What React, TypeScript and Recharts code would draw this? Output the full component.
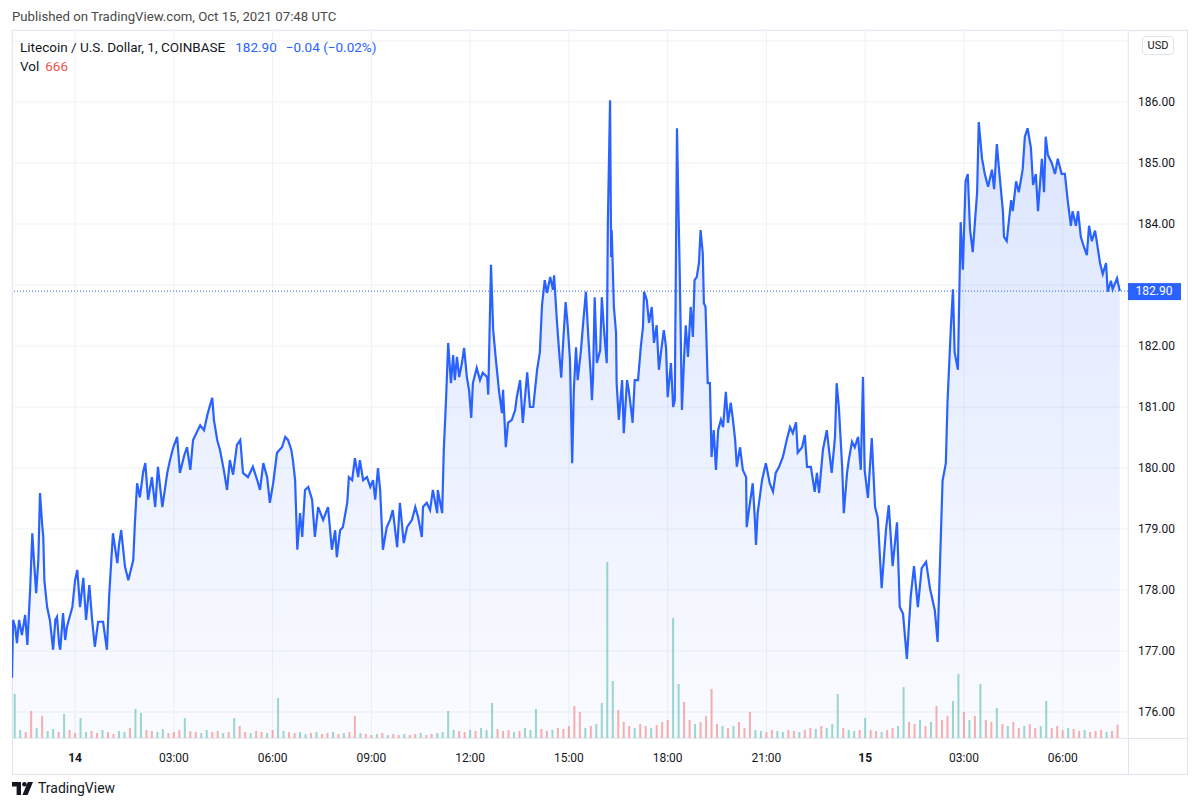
import {
  ComposedChart,
  Area,
  Bar,
  XAxis,
  YAxis,
  CartesianGrid,
  ReferenceLine,
} from "recharts";

// LTC/USD 1-minute, COINBASE. time = minutes from 2021-10-14 00:00 UTC, price in USD
const pricePoints: [number, number][] = [
  [-115, 176.56], [-113, 177.51], [-109, 177.38], [-106, 177.13], [-102, 177.51], [-97, 177.26],
  [-91, 177.59], [-87, 177.1], [-82, 178.0], [-78, 178.93], [-75, 178.49], [-71, 177.95],
  [-67, 178.49], [-64, 179.59], [-60, 179.07], [-58, 178.87], [-56, 178.16], [-51, 177.72],
  [-46, 177.51], [-40, 177.02], [-36, 177.51], [-33, 177.56], [-29, 177.1], [-27, 177.02],
  [-22, 177.62], [-18, 177.18], [-15, 177.39], [-9, 177.59], [-5, 177.72], [0, 178.16],
  [4, 178.33], [9, 177.72], [15, 178.2], [20, 177.51], [26, 178.08], [31, 177.51],
  [36, 177.07], [42, 177.48], [51, 177.48], [58, 177.02], [62, 177.89], [66, 178.49],
  [69, 178.93], [77, 178.44], [80, 178.74], [84, 178.98], [91, 178.38], [97, 178.16],
  [106, 178.49], [109, 179.1], [113, 179.75], [118, 179.52], [124, 179.93], [128, 180.08],
  [133, 179.48], [140, 179.85], [146, 179.36], [151, 180.02], [159, 179.36], [168, 179.92],
  [173, 180.13], [179, 180.34], [186, 180.51], [191, 179.92], [199, 180.21], [204, 180.34],
  [210, 179.97], [215, 180.46], [222, 180.59], [228, 180.7], [235, 180.62], [241, 180.87],
  [246, 181.03], [250, 181.15], [253, 180.79], [259, 180.46], [264, 180.3], [271, 179.97],
  [277, 179.64], [282, 180.13], [288, 179.89], [295, 180.38], [301, 180.46], [306, 179.92],
  [315, 179.85], [324, 180.02], [332, 179.8], [337, 179.64], [343, 180.08], [350, 179.85],
  [355, 179.43], [361, 179.75], [368, 180.25], [377, 180.34], [383, 180.51], [388, 180.46],
  [394, 180.3], [397, 180.13], [401, 179.8], [405, 178.66],
  [410, 179.26], [414, 178.87], [419, 179.64], [425, 179.69], [432, 179.48], [437, 178.87],
  [443, 179.36], [452, 179.15], [461, 179.36], [468, 178.66], [474, 178.98], [477, 178.54],
  [483, 178.98], [488, 179.03], [496, 179.43], [499, 179.85], [505, 179.8], [510, 180.16],
  [516, 179.85], [519, 180.13], [525, 179.8], [532, 179.85], [538, 179.69], [543, 179.8],
  [547, 179.48], [552, 180.0], [556, 179.64], [561, 178.66], [568, 179.03], [574, 179.15],
  [579, 179.31], [587, 178.7], [592, 179.43], [599, 178.77], [605, 179.03], [614, 179.15],
  [620, 179.36], [625, 179.2], [632, 178.87], [634, 179.36], [641, 179.43], [647, 179.31],
  [652, 179.64], [660, 179.26], [661, 179.64], [669, 179.26],
  [672, 180.3], [676, 181.11], [680, 182.05], [685, 181.39], [689, 181.85], [692, 181.44],
  [696, 181.82], [700, 181.49], [705, 181.72], [709, 181.97], [714, 181.49], [718, 181.28],
  [722, 180.82], [725, 181.39], [732, 181.64], [738, 181.44], [743, 181.56], [751, 181.49],
  [753, 181.2], [758, 183.33], [762, 182.26], [767, 181.77], [773, 181.23], [778, 180.9],
  [780, 181.28], [785, 180.34], [789, 180.74], [796, 180.79], [802, 180.95], [805, 181.16],
  [811, 181.44], [816, 180.74], [824, 181.57], [829, 181.0], [835, 181.0], [842, 181.61],
  [847, 181.89], [851, 182.67], [856, 183.08], [860, 182.87], [866, 183.13], [871, 182.92],
  [873, 183.16], [878, 182.43], [882, 181.93], [886, 181.48], [889, 181.98], [894, 182.72],
  [898, 182.31], [902, 181.77], [906, 180.08], [909, 181.28], [913, 181.98], [916, 181.44],
  [922, 181.93], [926, 182.38], [931, 182.89], [935, 182.21], [940, 181.49], [942, 181.11],
  [944, 181.49], [947, 182.8], [951, 181.72], [957, 181.93], [960, 182.8], [964, 182.26],
  [969, 181.72], [971, 184.02], [975, 186.03], [977, 183.46], [978, 183.9], [982, 182.64],
  [986, 182.21], [987, 181.39], [991, 180.79], [997, 181.44], [1000, 180.57], [1006, 181.44],
  [1009, 181.28], [1015, 180.84], [1016, 180.74], [1020, 181.44], [1026, 181.44], [1031, 181.98],
  [1035, 182.31], [1037, 182.89], [1042, 182.75], [1046, 182.38], [1051, 182.64], [1055, 182.05],
  [1060, 182.34], [1064, 181.61], [1069, 181.98], [1073, 182.26], [1077, 181.98], [1080, 181.16],
  [1086, 181.72], [1090, 181.0], [1093, 181.11], [1097, 185.57], [1099, 184.56], [1102, 183.2],
  [1106, 180.95], [1110, 181.82], [1113, 182.34], [1117, 181.82], [1122, 182.64], [1126, 182.15],
  [1129, 183.08], [1133, 183.13], [1137, 183.36], [1140, 183.9], [1144, 183.52], [1146, 182.7],
  [1149, 182.64], [1153, 181.39], [1157, 181.39], [1160, 180.18], [1164, 180.62], [1168, 179.97],
  [1172, 180.62], [1177, 180.79], [1181, 180.67], [1186, 181.25], [1190, 180.74], [1195, 181.07],
  [1199, 180.79], [1203, 180.46], [1206, 180.02], [1212, 180.34], [1217, 179.97], [1223, 179.85],
  [1224, 179.03], [1230, 179.43], [1235, 179.75], [1239, 179.15], [1241, 178.74], [1244, 179.26],
  [1252, 179.8], [1259, 180.08], [1266, 179.75], [1272, 179.61], [1277, 179.92], [1283, 180.02],
  [1290, 180.18], [1297, 180.46], [1303, 180.67], [1308, 180.57], [1314, 180.75], [1317, 180.25],
  [1325, 180.34], [1330, 180.54], [1334, 180.02], [1341, 180.02], [1348, 179.61], [1352, 179.92],
  [1356, 179.59], [1363, 180.3], [1370, 180.62], [1374, 180.3], [1379, 179.92], [1385, 180.51],
  [1388, 181.39], [1392, 181.0], [1398, 180.02], [1401, 179.26], [1407, 179.92], [1410, 180.13],
  [1416, 180.43], [1421, 180.34], [1427, 180.51], [1432, 179.97], [1436, 181.49], [1439, 179.97],
  [1445, 179.51], [1452, 180.49], [1458, 179.36], [1463, 179.18], [1470, 178.03], [1478, 179.0],
  [1483, 179.39], [1490, 178.39], [1498, 179.11], [1503, 177.72], [1509, 177.61], [1516, 176.87],
  [1523, 177.9], [1529, 178.39], [1536, 177.72], [1543, 178.36], [1551, 178.46], [1558, 178.03],
  [1567, 177.66], [1572, 177.15], [1576, 178.33], [1581, 179.79], [1587, 180.08], [1590, 181.07],
  [1596, 182.28], [1600, 182.93], [1603, 181.9], [1609, 181.61], [1614, 184.03], [1618, 183.25],
  [1623, 184.7], [1627, 184.82], [1631, 183.92], [1636, 183.54], [1644, 184.52], [1647, 185.67],
  [1653, 185.07], [1658, 184.82], [1664, 184.61], [1671, 184.89], [1675, 184.57], [1680, 185.31],
  [1684, 184.89], [1691, 184.21], [1693, 183.79], [1698, 183.72], [1706, 184.39], [1709, 184.21],
  [1715, 184.7], [1720, 184.52], [1727, 184.89], [1731, 185.43], [1736, 185.57], [1742, 185.25],
  [1746, 184.64], [1751, 184.82], [1755, 184.21], [1762, 185.07], [1766, 184.52], [1769, 185.43],
  [1773, 185.13], [1780, 185.0], [1786, 184.82], [1791, 185.07], [1798, 184.82], [1804, 184.82],
  [1809, 184.39], [1815, 183.97], [1818, 184.21], [1824, 183.97], [1828, 184.21], [1833, 183.79],
  [1837, 183.67], [1844, 183.49], [1848, 183.97], [1853, 183.72], [1859, 183.89], [1862, 183.72],
  [1868, 183.36], [1873, 183.18], [1879, 183.36], [1882, 182.89], [1888, 183.07], [1891, 182.93],
  [1899, 183.11], [1904, 182.9],
];

// volume, one value per 10-minute slot starting at 22:10 on Oct 13
const volStart = -110;
const volStep = 10;
const volumes = [
  2200, 400, 300, 1350, 500, 1100, 350, 450, 300, 1200,
  400, 250, 1000, 300, 350, 250, 400, 300, 200, 350,
  300, 500, 1450, 1250, 400, 350, 300, 450, 250, 300,
  400, 1000, 350, 300, 250, 400, 300, 350, 250, 300,
  1000, 600, 300, 250, 350, 300, 250, 400, 2000, 350,
  300, 250, 300, 200, 250, 300, 200, 250, 300, 200,
  250, 300, 1100, 250, 200, 150, 200, 250, 150, 200,
  150, 200, 150, 200, 250, 150, 200, 250, 300, 1350,
  400, 350, 300, 400, 350, 500, 400, 1750, 450, 350,
  400, 300, 350, 500, 400, 1450, 450, 350, 400, 500,
  450, 600, 1600, 1300, 500, 600, 700, 1750, 8800, 2850,
  1400, 800, 600, 500, 700, 600, 500, 650, 800, 900,
  6000, 2700, 1800, 900, 700, 800, 1100, 2450, 700, 600,
  500, 600, 800, 500, 1300, 400, 350, 300, 400, 350,
  300, 400, 350, 300, 400, 500, 450, 600, 500, 700,
  2200, 500, 400, 350, 400, 1000, 400, 350, 300, 400,
  500, 600, 2550, 800, 700, 900, 600, 800, 1600, 900,
  1100, 1850, 3200, 1300, 900, 1100, 2700, 900, 800, 1500,
  700, 600, 800, 500, 600, 700, 500, 600, 1850, 500,
  600, 400, 500, 450, 350, 400, 300, 350, 400, 300,
  350, 666,
];
// u = up candle, d = down candle, same order as volumes
const volDirs = [
  "uudduduudu", "dduudduddu", "uduudduudd", "dudduuddud", "uddudduduu",
  "dduududdud", "udduddudud", "duddudduuu", "udduduuudd", "duduuuddud",
  "dddduduuuu", "dddudduddd", "uudduddddu", "duddduuddu", "uddudduduu",
  "uduududdud", "duuddududd", "duudududdu", "duddudduud", "dduddudddu",
  "dd",
].join("");

const timeTicks = [0, 180, 360, 540, 720, 900, 1080, 1260, 1440, 1620, 1800];
const timeLabels = ["14", "03:00", "06:00", "09:00", "12:00", "15:00", "18:00", "21:00", "15", "03:00", "06:00"];
const priceTicks = [176, 177, 178, 179, 180, 181, 182, 183, 184, 185, 186, 187];
// labels covered by the USD badge and the last-price tag
const coveredPriceTicks = [183, 187];
const lastPrice = 182.9;

const FONT = "Roboto, 'Open Sans', sans-serif";
const BLUE = "#2962ff";
const TEXT = "#131722";
const BORDER = "#e0e3eb";
const UP_VOL = "rgba(38,166,154,0.45)";
const DOWN_VOL = "rgba(239,83,80,0.45)";

const rows = new Map<number, any>();
pricePoints.forEach(([t, p]) => rows.set(t, { t, price: p }));
volumes.forEach((v, i) => {
  const t = volStart + i * volStep;
  const r = rows.get(t) ?? { t };
  r.vol = v;
  r.dir = volDirs[i];
  rows.set(t, r);
});
const data = [...rows.values()].sort((a, b) => a.t - b.t);

function TimeTick(props: any) {
  const { x, y, payload } = props;
  const idx = timeTicks.indexOf(payload.value);
  const label = timeLabels[idx] ?? "";
  const isDay = !label.includes(":");
  return (
    <text
      x={x}
      y={y + 7}
      dy="0.71em"
      textAnchor="middle"
      fontFamily={FONT}
      fontSize={12}
      fontWeight={isDay ? 700 : 400}
      fill={TEXT}
    >
      {label}
    </text>
  );
}

function PriceTick(props: any) {
  const { x, y, payload } = props;
  if (coveredPriceTicks.includes(payload.value)) return <g />;
  return (
    <text x={x + 2} y={y} dy="0.355em" textAnchor="start" fontFamily={FONT} fontSize={12} fill={TEXT}>
      {payload.value.toFixed(2)}
    </text>
  );
}

function LastPriceLabel(props: any) {
  const vb = props.viewBox;
  const x = vb.x + vb.width;
  return (
    <g>
      <rect x={x} y={vb.y - 8} width={53} height={17} fill={BLUE} />
      <text x={x + 26} y={vb.y} dy="0.355em" textAnchor="middle" fontFamily={FONT} fontSize={12} fill="#fff">
        {lastPrice.toFixed(2)}
      </text>
    </g>
  );
}

// thin volume stick, centred on its time
function VolumeBar(props: any) {
  const { x, y, width, height, payload } = props;
  if (!height || height <= 0) return <g />;
  const cx = x + width / 2;
  return (
    <rect
      x={cx - 1}
      y={y}
      width={2}
      height={height}
      fill={payload.dir === "u" ? UP_VOL : DOWN_VOL}
    />
  );
}

export default function App() {
  return (
    <div
      style={{
        position: "absolute",
        left: 0,
        top: 0,
        width: 1200,
        height: 807,
        background: "#fff",
        fontFamily: FONT,
        color: TEXT,
        overflow: "hidden",
      }}
    >
      <div style={{ position: "absolute", left: 12, top: 8, fontSize: 13.2, lineHeight: "18px", color: "#4a4a4a" }}>
        Published on TradingView.com, Oct 15, 2021 07:48 UTC
      </div>

      {/* frame */}
      <div style={{ position: "absolute", left: 12, top: 30, width: 1176, height: 745, border: `1px solid ${BORDER}`, boxSizing: "border-box" }} />
      <div style={{ position: "absolute", left: 12, top: 738, width: 1176, height: 1, background: BORDER }} />
      <div style={{ position: "absolute", left: 1128, top: 30, width: 1, height: 745, background: BORDER }} />

      <div style={{ position: "absolute", left: 0, top: 0 }}>
        <ComposedChart width={1200} height={807} data={data} margin={{ top: 30, right: 12, bottom: 32, left: 12 }}>
          <defs>
            <linearGradient id="ltcFill" x1="0" y1="0" x2="0" y2="1">
              <stop offset="0%" stopColor={BLUE} stopOpacity={0.28} />
              <stop offset="100%" stopColor={BLUE} stopOpacity={0.04} />
            </linearGradient>
          </defs>
          <CartesianGrid yAxisId="price" stroke="#eef1f6" strokeWidth={1} />
          <XAxis
            dataKey="t"
            type="number"
            domain={[-115, 1919]}
            allowDataOverflow
            ticks={timeTicks}
            interval={0}
            height={37}
            axisLine={false}
            tickLine={false}
            tick={<TimeTick />}
          />
          <YAxis
            yAxisId="price"
            orientation="right"
            width={60}
            domain={[175.574, 187.18]}
            allowDataOverflow
            ticks={priceTicks}
            interval={0}
            axisLine={false}
            tickLine={false}
            tick={<PriceTick />}
          />
          <YAxis yAxisId="vol" hide domain={[0, 35400]} allowDataOverflow />
          <Area
            yAxisId="price"
            type="linear"
            dataKey="price"
            stroke={BLUE}
            strokeWidth={2.2}
            fill="url(#ltcFill)"
            connectNulls
            dot={false}
            activeDot={false}
            isAnimationActive={false}
          />
          <Bar
            yAxisId="vol"
            dataKey="vol"
            barSize={1}
            shape={(p: any) => <VolumeBar {...p} />}
            isAnimationActive={false}
          />
          <ReferenceLine
            yAxisId="price"
            y={lastPrice}
            stroke={BLUE}
            strokeDasharray="1 2"
            label={(p: any) => <LastPriceLabel {...p} />}
          />
        </ComposedChart>
      </div>

      {/* legend */}
      <div style={{ position: "absolute", left: 20, top: 38, fontSize: 13.5, lineHeight: "18px", whiteSpace: "nowrap" }}>
        <span>Litecoin / U.S. Dollar, 1, COINBASE</span>
        <span style={{ color: BLUE, marginLeft: 10 }}>182.90</span>
        <span style={{ color: BLUE, marginLeft: 9 }}>−0.04 (−0.02%)</span>
      </div>
      <div style={{ position: "absolute", left: 20, top: 57, fontSize: 13.5, lineHeight: "18px", whiteSpace: "nowrap" }}>
        <span>Vol</span>
        <span style={{ color: "#ef5350", marginLeft: 6 }}>666</span>
      </div>

      {/* currency badge */}
      <div
        style={{
          position: "absolute",
          left: 1142,
          top: 36,
          width: 32,
          height: 19,
          border: `1px solid ${BORDER}`,
          borderRadius: 4,
          background: "#fff",
          boxSizing: "border-box",
          fontSize: 11,
          lineHeight: "17px",
          textAlign: "center",
        }}
      >
        USD
      </div>

      {/* footer logo */}
      <div style={{ position: "absolute", left: 12, top: 780, display: "flex", alignItems: "center", gap: 4 }}>
        <svg width={22} height={13} viewBox="0 0 22 13">
          <path d="M0 0h9v13H4.6V4.4H0z" fill={TEXT} />
          <circle cx={12.4} cy={2.3} r={2.3} fill={TEXT} />
          <path d="M15.8 0H21l-5.4 13h-5.2z" fill={TEXT} />
        </svg>
        <span style={{ fontSize: 14, lineHeight: "16px" }}>TradingView</span>
      </div>
    </div>
  );
}
